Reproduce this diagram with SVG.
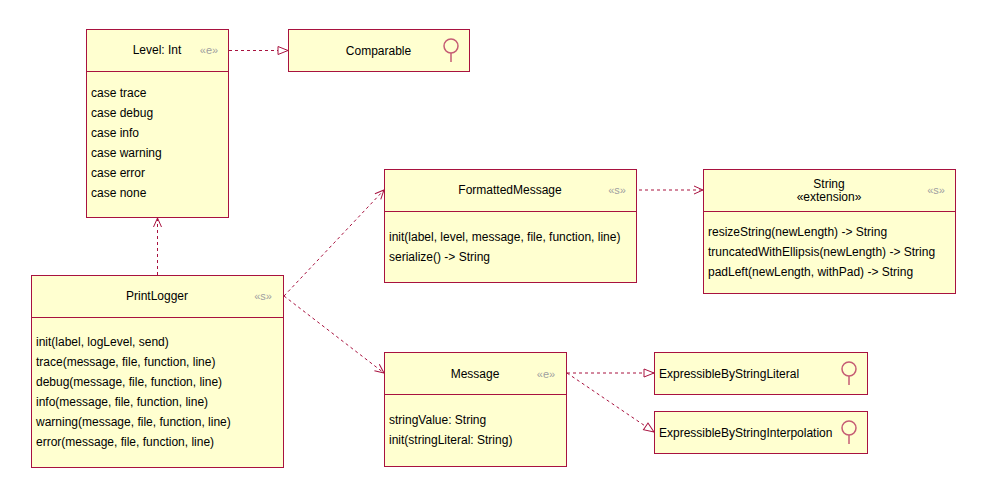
<svg xmlns="http://www.w3.org/2000/svg" width="986" height="494" viewBox="0 0 986 494">
<style>
.box{fill:#FFFFD0;stroke:#A8123F;stroke-width:1}
.div{stroke:#A8123F;stroke-width:1}
.t{font-family:"Liberation Sans",Arial,sans-serif;font-size:12px;fill:#000}
.c{text-anchor:middle}
.st{font-family:"Liberation Sans",Arial,sans-serif;font-size:11px;fill:#A0A0A0;text-anchor:middle}
.lp{fill:none;stroke:#C55C74;stroke-width:1.5}
.e{fill:none;stroke:#A8123F;stroke-width:1;stroke-dasharray:3 3}
</style>
<defs>
<marker id="open" markerUnits="userSpaceOnUse" markerWidth="12" markerHeight="10" refX="10" refY="4" orient="auto" overflow="visible">
<path d="M1,0 L10,4 L1,8" fill="none" stroke="#A8123F" stroke-width="1"/>
</marker>
<marker id="tri" markerUnits="userSpaceOnUse" markerWidth="12" markerHeight="10" refX="10" refY="4" orient="auto" overflow="visible">
<path d="M0,0 L10,4 L0,8 Z" fill="#FFFFFF" stroke="#A8123F" stroke-width="1"/>
</marker>
</defs>
<g id="connectors">
<path class="e" d="M229,50.5 L288,50.5" marker-end="url(#tri)"/>
<path class="e" d="M157.5,275 L157.5,218" marker-end="url(#open)"/>
<path class="e" d="M284,296 L384,190" marker-end="url(#open)"/>
<path class="e" d="M284,296 L384,373" marker-end="url(#open)"/>
<path class="e" d="M639,190 L703,190" marker-end="url(#open)"/>
<path class="e" d="M567,373 L654,373" marker-end="url(#tri)"/>
<path class="e" d="M567,373 L654,432" marker-end="url(#tri)"/>
</g>
<g id="level">
<rect class="box" x="86.5" y="29.5" width="142" height="188"/>
<line class="div" x1="86.5" y1="71.5" x2="228.5" y2="71.5"/>
<text class="t c" x="157" y="54">Level: Int</text>
<text class="st" x="209" y="54">«e»</text>
<text class="t" x="91" y="97">case trace</text>
<text class="t" x="91" y="117">case debug</text>
<text class="t" x="91" y="137">case info</text>
<text class="t" x="91" y="157">case warning</text>
<text class="t" x="91" y="177">case error</text>
<text class="t" x="91" y="197">case none</text>
</g>
<g id="comparable">
<rect class="box" x="288.5" y="29.5" width="181" height="42"/>
<text class="t c" x="378.5" y="54.5">Comparable</text>
<circle class="lp" cx="451" cy="46" r="7"/>
<line class="lp" x1="451" y1="53" x2="451" y2="62"/>
</g>
<g id="printlogger">
<rect class="box" x="31.5" y="275.5" width="252" height="192"/>
<line class="div" x1="31.5" y1="317.5" x2="283.5" y2="317.5"/>
<text class="t c" x="157" y="300">PrintLogger</text>
<text class="st" x="263" y="300">«s»</text>
<text class="t" x="36" y="346">init(label, logLevel, send)</text>
<text class="t" x="36" y="366">trace(message, file, function, line)</text>
<text class="t" x="36" y="386">debug(message, file, function, line)</text>
<text class="t" x="36" y="406">info(message, file, function, line)</text>
<text class="t" x="36" y="426">warning(message, file, function, line)</text>
<text class="t" x="36" y="446">error(message, file, function, line)</text>
</g>
<g id="formattedmessage">
<rect class="box" x="384.5" y="169.5" width="252" height="113"/>
<line class="div" x1="384.5" y1="211.5" x2="636.5" y2="211.5"/>
<text class="t c" x="510" y="194">FormattedMessage</text>
<text class="st" x="617" y="194">«s»</text>
<text class="t" x="389" y="241">init(label, level, message, file, function, line)</text>
<text class="t" x="389" y="261">serialize() -&gt; String</text>
</g>
<g id="string">
<rect class="box" x="703.5" y="169.5" width="252" height="124"/>
<line class="div" x1="703.5" y1="211.5" x2="955.5" y2="211.5"/>
<text class="t c" x="829" y="187.5">String</text>
<text class="t c" x="829" y="201">«extension»</text>
<text class="st" x="936" y="194">«s»</text>
<text class="t" x="708" y="236">resizeString(newLength) -&gt; String</text>
<text class="t" x="708" y="256">truncatedWithEllipsis(newLength) -&gt; String</text>
<text class="t" x="708" y="276">padLeft(newLength, withPad) -&gt; String</text>
</g>
<g id="message">
<rect class="box" x="384.5" y="352.5" width="182" height="114"/>
<line class="div" x1="384.5" y1="394.5" x2="566.5" y2="394.5"/>
<text class="t c" x="475" y="377.5">Message</text>
<text class="st" x="546" y="377.5">«e»</text>
<text class="t" x="389" y="424">stringValue: String</text>
<text class="t" x="389" y="444">init(stringLiteral: String)</text>
</g>
<g id="expressiblebystringliteral">
<rect class="box" x="654.5" y="352.5" width="213" height="42"/>
<text class="t" x="659" y="377.5">ExpressibleByStringLiteral</text>
<circle class="lp" cx="849" cy="369" r="7"/>
<line class="lp" x1="849" y1="376" x2="849" y2="385"/>
</g>
<g id="expressiblebystringinterpolation">
<rect class="box" x="654.5" y="411.5" width="213" height="42"/>
<text class="t" x="659" y="436.5">ExpressibleByStringInterpolation</text>
<circle class="lp" cx="849" cy="428" r="7"/>
<line class="lp" x1="849" y1="435" x2="849" y2="444"/>
</g>
</svg>
